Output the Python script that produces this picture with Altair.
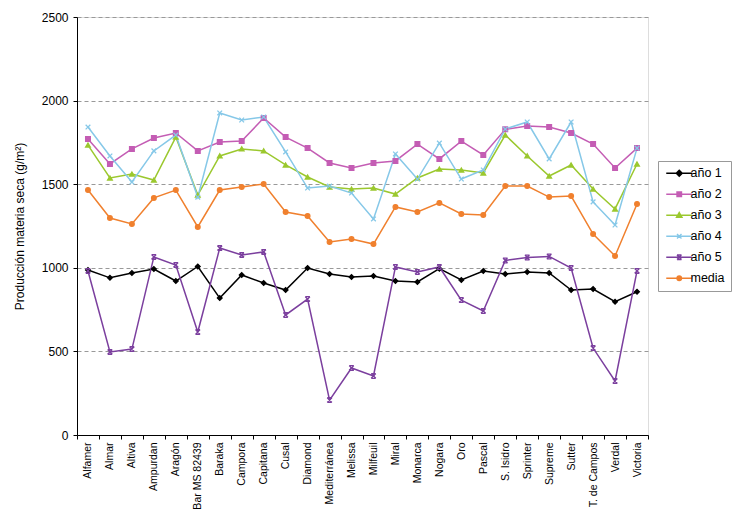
import altair as alt
import pandas as pd

variedades = ["Alfamer", "Almar", "Altiva", "Ampurdan", "Aragón", "Bar MS 82439", "Baraka",
              "Campora", "Capitana", "Cusal", "Diamond", "Mediterránea", "Melissa", "Milfeuil",
              "Miral", "Monarca", "Nogara", "Oro", "Pascal", "S. Isidro", "Sprinter", "Supreme",
              "Sutter", "T. de Campos", "Verdal", "Victoria"]

anio1 = [987, 940, 969, 993, 921, 1008, 819, 957, 909, 867, 999, 963, 945, 951, 921, 915,
         995, 927, 981, 963, 975, 969, 867, 873, 797, 857]
anio2 = [1770, 1621, 1711, 1776, 1806, 1699, 1752, 1758, 1896, 1782, 1716, 1627, 1597, 1627,
         1639, 1740, 1651, 1758, 1675, 1828, 1848, 1842, 1806, 1740, 1597, 1716]
anio3 = [1734, 1537, 1561, 1525, 1782, 1435, 1669, 1711, 1699, 1615, 1543, 1483, 1471, 1477,
         1441, 1537, 1591, 1585, 1567, 1794, 1669, 1549, 1615, 1471, 1352, 1621]
anio4 = [1842, 1669, 1513, 1699, 1794, 1423, 1926, 1884, 1902, 1693, 1477, 1489, 1447, 1292,
         1681, 1531, 1746, 1531, 1585, 1830, 1872, 1651, 1872, 1394, 1256, 1716]
anio5 = [981, 497, 514, 1065, 1017, 616, 1118, 1077, 1095, 718, 813, 209, 401, 353, 1005, 975,
         1005, 807, 742, 1044, 1062, 1068, 999, 520, 323, 981]
media = [1465, 1298, 1262, 1418, 1465, 1244, 1465, 1483, 1501, 1334, 1310, 1154, 1172, 1142,
         1364, 1334, 1388, 1322, 1316, 1489, 1489, 1423, 1429, 1202, 1071, 1382]

series = ["año 1", "año 2", "año 3", "año 4", "año 5", "media"]
colores = ["#000000", "#C45DB4", "#9BC82E", "#86C8E8", "#7B3F9E", "#F0802E"]
x_path = "M-1,-1L1,1M-1,1L1,-1"
star_path = "M-1,-1L1,1M-1,1L1,-1M-1,-1L1,-1M-1,1L1,1"
formas = ["diamond", "square", "triangle-up", x_path, star_path, "circle"]

# legend symbols: a line segment with the series marker in the middle
seg = "M-2.6,0L2.6,0"
formas_leyenda = [
    seg + "M0,-0.6L0.6,0L0,0.6L-0.6,0Z",
    seg + "M-0.45,-0.45L0.45,-0.45L0.45,0.45L-0.45,0.45Z",
    seg + "M0,-0.55L0.55,0.4L-0.55,0.4Z",
    seg + "M-0.45,-0.45L0.45,0.45M-0.45,0.45L0.45,-0.45",
    seg + "M-0.45,-0.45L0.45,0.45M-0.45,0.45L0.45,-0.45M-0.45,-0.45L0.45,-0.45M-0.45,0.45L0.45,0.45",
    seg + "M0.45,0A0.45,0.45,0,1,1,-0.45,0A0.45,0.45,0,1,1,0.45,0Z",
]

rows = []
for nombre, vals in zip(series, [anio1, anio2, anio3, anio4, anio5, media]):
    for v, val in zip(variedades, vals):
        rows.append({"variedad": v, "valor": val, "serie": nombre, "leyenda": nombre})
df = pd.DataFrame(rows)

font = "Liberation Sans"

x_enc = alt.X("variedad:N", sort=variedades, title=None,
              scale=alt.Scale(type="band", paddingInner=0, paddingOuter=0),
              axis=alt.Axis(labelAngle=-90, labelFontSize=10.5, labelFont=font, labelColor="#000",
                            domainColor="#000", tickColor="#000", tickBand="extent", tickSize=4,
                            labelPadding=3, grid=False))
y_enc = alt.Y("valor:Q", title="Producción materia seca (g/m²)",
              scale=alt.Scale(domain=[0, 2500], nice=False),
              axis=alt.Axis(values=[0, 500, 1000, 1500, 2000, 2500], format="d", labelFontSize=12,
                            labelFont=font, labelColor="#000", labelPadding=5,
                            titleFont=font, titleFontSize=12,
                            titleFontWeight="normal", titleColor="#000", titlePadding=15,
                            domainColor="#000", tickColor="#000", tickSize=4,
                            grid=True, gridDash=[4, 3], gridColor="#999"))

color_scale = alt.Scale(domain=series, range=colores)
leyenda = alt.Legend(orient="none", legendX=581, legendY=144, title=None,
                     strokeColor="#999", padding=6, fillColor="#fff",
                     labelFont=font, labelFontSize=12.5, labelColor="#000",
                     symbolSize=100, symbolOpacity=1, rowPadding=8, symbolStrokeWidth=1.4,
                     symbolOffset=9, labelOffset=5)

lineas = alt.Chart(df).mark_line(strokeWidth=1.5).encode(
    x=x_enc, y=y_enc,
    color=alt.Color("serie:N", scale=color_scale, legend=None),
    detail="serie:N",
)

puntos = alt.Chart(df).mark_point(filled=True, size=22, strokeWidth=1.3, opacity=1).encode(
    x=x_enc, y=y_enc,
    color=alt.Color("serie:N", scale=color_scale, legend=None),
    stroke=alt.Stroke("serie:N", scale=color_scale, legend=None),
    shape=alt.Shape("serie:N", scale=alt.Scale(domain=series, range=formas), legend=None),
)

# invisible layer that only provides the legend
guia = alt.Chart(df).mark_point(filled=True, size=100, strokeWidth=1.4, opacity=0).encode(
    x=x_enc, y=y_enc,
    color=alt.Color("leyenda:N", scale=color_scale, legend=leyenda),
    stroke=alt.Stroke("leyenda:N", scale=color_scale, legend=leyenda),
    shape=alt.Shape("leyenda:N", scale=alt.Scale(domain=series, range=formas_leyenda), legend=leyenda),
)

chart = alt.layer(lineas, puntos, guia).resolve_scale(
    color="independent", stroke="independent", shape="independent"
).properties(
    width=571, height=418,
    autosize=alt.AutoSizeParams(type="none"),
    padding={"left": 77, "top": 17, "right": 85, "bottom": 82},
).configure_view(
    stroke="#888", strokeWidth=1
).configure(background="#ffffff")

chart.save("out.html", embed_options={"renderer": "svg", "actions": False})
